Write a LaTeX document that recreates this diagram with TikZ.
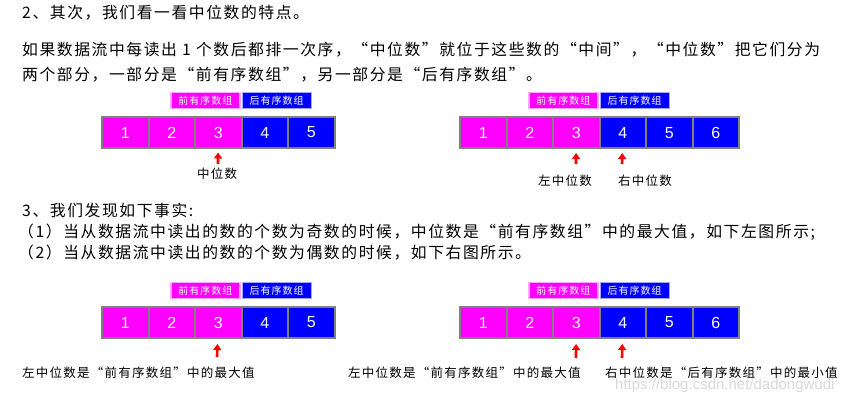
\documentclass[tikz,border=0pt]{standalone}
\usepackage{fontspec}
\setmainfont{Noto Sans CJK SC}[LetterSpace=10]
\newfontfamily\numfont{Liberation Sans}
\usetikzlibrary{arrows.meta,positioning}
\definecolor{premag}{RGB}{255,0,255}
\definecolor{postblue}{RGB}{0,0,255}
\definecolor{cellgray}{RGB}{128,128,128}

\begin{document}
\begin{tikzpicture}[x=1pt, y=-1pt,
    txt/.style={anchor=west, inner sep=0pt, font=\fontsize{15.8}{18}\selectfont},
    note/.style={inner sep=0pt, font=\fontsize{12.5}{15}\selectfont},
    cell/.style={draw=cellgray, line width=2pt, minimum width=46.5pt, minimum height=31pt,
        inner sep=0pt, text=white, font=\numfont\fontsize{16}{18}\selectfont},
    pre/.style={cell, fill=premag},
    post/.style={cell, fill=postblue},
    tag/.style={minimum width=69pt, minimum height=16pt, inner sep=0pt, text=white,
        line width=1.2pt, font=\fontsize{10}{12}\selectfont},
    pretag/.style={tag, fill=premag, draw=premag!35},
    posttag/.style={tag, fill=postblue, draw=postblue!35},
    up/.style={red, line width=2.6pt, -{Triangle[length=6pt,width=8pt]}}
]
\useasboundingbox[fill=white] (0,0) rectangle (855,403);

% text
\node[txt] (l1) at (22,13) {2、其次，我们看一看中位数的特点。};
\node[txt] (l2) at (22,50) {如果数据流中每读出 1 个数后都排一次序，“中位数”就位于这些数的“中间”，“中位数”把它们分为};
\node[txt] (l3) at (22,74.5) {两个部分，一部分是“前有序数组”，另一部分是“后有序数组”。};
\node[txt] (l4) at (22,210) {3、我们发现如下事实:};
\node[txt] (l5) at (18,232.5) {（1）当从数据流中读出的数的个数为奇数的时候，中位数是“前有序数组”中的最大值，如下左图所示;};
\node[txt] (l6) at (18,252.5) {（2）当从数据流中读出的数的个数为偶数的时候，如下右图所示。};

% the four arrays
\foreach \r/\x/\y/\n in {a/102/132.5/5, b/460/133/6, c/102/322.5/5, d/460/322.5/6} {
    \foreach \i in {1,...,\n} {
        \ifnum\i<4
            \node[pre] (\r\i) at ({\x+23.25+46.5*(\i-1)},\y) {\i};
        \else
            \node[post] (\r\i) at ({\x+23.25+46.5*(\i-1)},\y) {\i};
        \fi
    }
    \node[pretag, above left=7pt and 2pt of \r3.north east] (\r pre) {前有序数组};
    \node[posttag, above right=7pt and 1pt of \r4.north west] (\r post) {后有序数组};
}

% arrows
\coordinate (ta) at (218,164);
\coordinate (tb3) at (576,164);
\coordinate (tb4) at (622,164);
\coordinate (tc) at (217,357);
\coordinate (td3) at (576,358);
\coordinate (td4) at (622,358);
\draw[up, shorten >=3.5pt] (ta) -- (a3);
\draw[up, shorten >=3.5pt] (tb3) -- (b3);
\draw[up, shorten >=3.5pt] (tb4) -- (b4);
\draw[up, shorten >=5pt] (tc) -- (c3);
\draw[up, shorten >=5pt] (td3) -- (d3);
\draw[up, shorten >=5pt] (td4) -- (d4);

% labels
\node[note] (ma) at (217,174) {中位数};
\node[note] (mbl) at (565,181) {左中位数};
\node[note] (mbr) at (645,181) {右中位数};
\node[note, anchor=west] (mc) at (22,373) {左中位数是“前有序数组”中的最大值};
\node[note, anchor=west] (mdl) at (348,373) {左中位数是“前有序数组”中的最大值};
\node[note, anchor=west] (mdr) at (605,373) {右中位数是“后有序数组”中的最小值};

% watermark
\node[anchor=west, inner sep=0pt, text=gray!30, font=\numfont\fontsize{15}{18}\selectfont] (wm) at (615,386) {https://blog.csdn.net/dadongwudi};
\end{tikzpicture}
\end{document}
